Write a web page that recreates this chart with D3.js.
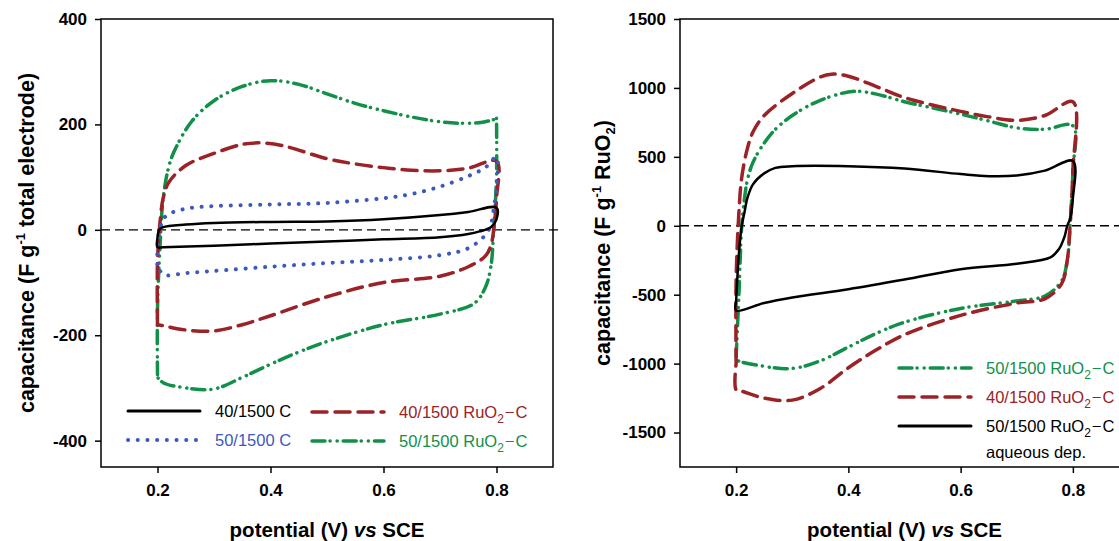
<!DOCTYPE html>
<html>
<head>
<meta charset="utf-8">
<script src="https://cdn.jsdelivr.net/npm/d3@7"></script>
<style>
  body { margin: 0; background: #fff; }
  svg text { font-family: "Liberation Sans", Arial, sans-serif; }
  .tick text { font-weight: bold; font-size: 17px; }
  .axis-title { font-weight: bold; }
  .legend-text { font-size: 16.5px; }
</style>
</head>
<body>
<div id="chart"></div>
<script>
// Colours of the series
var black = "#000000";
var red = "#9b2226";
var blue = "#3d59c1";
var green = "#12904a";

// ---- left panel: F per g of total electrode ----
var leftXTicks = [0.2, 0.4, 0.6, 0.8];
var leftYTicks = [-400, -200, 0, 200, 400];

var c40V = [0.2, 0.203, 0.21, 0.25, 0.3, 0.4, 0.5, 0.6, 0.7, 0.75, 0.8, 0.8, 0.79, 0.77, 0.75, 0.7, 0.6, 0.5, 0.4, 0.3, 0.21, 0.2, 0.2];
var c40C = [-15, 0, 5, 10, 13, 15, 16, 20, 28, 34, 42, 20, 5, -3, -8, -14, -18, -22, -26, -30, -33, -33, -15];

var c50V = [0.2, 0.2, 0.205, 0.21, 0.22, 0.25, 0.3, 0.4, 0.5, 0.6, 0.65, 0.7, 0.75, 0.78, 0.8, 0.8, 0.795, 0.79, 0.78, 0.75, 0.7, 0.6, 0.5, 0.4, 0.3, 0.25, 0.21, 0.2];
var c50C = [-65, -30, 5, 20, 30, 40, 45, 48, 51, 60, 68, 82, 102, 118, 138, 80, 40, 10, -10, -35, -48, -57, -63, -70, -78, -82, -85, -65];

var ru40V = [0.2, 0.2, 0.205, 0.21, 0.22, 0.25, 0.3, 0.35, 0.38, 0.42, 0.5, 0.55, 0.6, 0.65, 0.7, 0.75, 0.8, 0.8, 0.795, 0.79, 0.78, 0.75, 0.7, 0.6, 0.5, 0.4, 0.35, 0.3, 0.25, 0.21, 0.2, 0.2];
var ru40C = [-180, -60, 20, 60, 90, 122, 145, 162, 165, 160, 135, 125, 118, 113, 112, 117, 130, 60, 0, -30, -50, -70, -88, -100, -127, -163, -180, -192, -190, -182, -180, -180];

var ru50V = [0.2, 0.2, 0.205, 0.21, 0.22, 0.23, 0.26, 0.3, 0.35, 0.4, 0.45, 0.5, 0.55, 0.6, 0.65, 0.7, 0.74, 0.78, 0.8, 0.8, 0.8, 0.795, 0.79, 0.78, 0.76, 0.7, 0.6, 0.5, 0.45, 0.4, 0.35, 0.3, 0.25, 0.21, 0.2];
var ru50C = [-275, -150, -20, 60, 120, 150, 205, 245, 272, 283, 276, 258, 240, 226, 214, 205, 202, 205, 212, 215, 100, 0, -70, -110, -140, -160, -180, -212, -232, -255, -280, -302, -300, -290, -280];

// ---- right panel: F per g of RuO2 ----
var rightXTicks = [0.2, 0.4, 0.6, 0.8];
var rightYTicks = [-1500, -1000, -500, 0, 500, 1000, 1500];

var aqV = [0.2, 0.205, 0.21, 0.215, 0.22, 0.23, 0.25, 0.27, 0.3, 0.4, 0.5, 0.6, 0.65, 0.7, 0.75, 0.8, 0.8, 0.795, 0.79, 0.785, 0.775, 0.76, 0.7, 0.6, 0.5, 0.4, 0.3, 0.25, 0.2, 0.2];
var aqC = [-550, -200, 0, 100, 200, 300, 380, 420, 432, 432, 415, 375, 360, 365, 400, 470, 200, 50, 0, -80, -170, -230, -275, -315, -390, -460, -520, -560, -615, -550];

var r40V = [0.2, 0.2, 0.205, 0.21, 0.22, 0.23, 0.25, 0.3, 0.35, 0.37, 0.4, 0.45, 0.5, 0.6, 0.65, 0.7, 0.75, 0.8, 0.8, 0.795, 0.79, 0.78, 0.75, 0.7, 0.6, 0.5, 0.45, 0.4, 0.35, 0.3, 0.25, 0.21, 0.2, 0.2];
var r40C = [-1000, -400, 100, 350, 560, 680, 800, 960, 1080, 1100, 1085, 1010, 930, 830, 790, 765, 800, 900, 400, 0, -250, -420, -530, -560, -650, -790, -900, -1030, -1180, -1265, -1250, -1200, -1190, -1000];

var r50V = [0.2, 0.205, 0.21, 0.215, 0.22, 0.23, 0.25, 0.27, 0.3, 0.35, 0.41, 0.45, 0.5, 0.6, 0.65, 0.7, 0.75, 0.8, 0.8, 0.795, 0.79, 0.78, 0.75, 0.7, 0.6, 0.5, 0.45, 0.4, 0.35, 0.3, 0.25, 0.2, 0.2];
var r50C = [-950, -500, 0, 200, 330, 460, 600, 700, 800, 910, 975, 955, 900, 810, 760, 710, 700, 725, 400, 0, -250, -400, -510, -545, -600, -700, -780, -880, -980, -1035, -1020, -970, -950];

// line styles
var solid = null;
var dotted = "0.1 9.6";
var dashed = "15 8";
var dashDotDot = "13 5 0.1 7 0.1 6";

var svg = d3.select("#chart").append("svg")
  .attr("width", 1119)
  .attr("height", 541);

function zip(vs, cs) {
  return vs.map(function (v, i) { return [v, cs[i]]; });
}

function drawPanel(p) {
  var g = svg.append("g");

  var x = d3.scaleLinear().domain([0.1, 0.9]).range([p.left, p.right]);
  var y = d3.scaleLinear().domain(p.yDomain).range([p.bottom, p.top]);

  // zero line
  g.append("line")
    .attr("x1", p.left).attr("x2", p.zeroEnd)
    .attr("y1", y(0)).attr("y2", y(0))
    .attr("stroke", "#000").attr("stroke-width", 1.3)
    .attr("stroke-dasharray", "9 5");

  var line = d3.line()
    .x(function (d) { return x(d[0]); })
    .y(function (d) { return y(d[1]); })
    .curve(d3.curveCatmullRom.alpha(0.5));

  p.series.forEach(function (s) {
    g.append("path")
      .datum(zip(s.v, s.c))
      .attr("d", line)
      .attr("fill", "none")
      .attr("stroke", s.color)
      .attr("stroke-width", s.width)
      .attr("stroke-linecap", "round")
      .attr("stroke-dasharray", s.dash);
  });

  // frame
  g.append("rect")
    .attr("x", p.left).attr("y", p.top)
    .attr("width", p.right - p.left).attr("height", p.bottom - p.top)
    .attr("fill", "none").attr("stroke", "#000").attr("stroke-width", 1.5);

  var xAxis = g.append("g")
    .attr("transform", "translate(0," + p.bottom + ")")
    .call(d3.axisBottom(x).tickValues(p.xTicks).tickSize(6).tickPadding(11).tickFormat(d3.format(".1f")));
  var yAxis = g.append("g")
    .attr("transform", "translate(" + p.left + ",0)")
    .call(d3.axisLeft(y).tickValues(p.yTicks).tickSize(6).tickPadding(8)
      .tickFormat(function (d) { return String(d); }));
  [xAxis, yAxis].forEach(function (a) {
    a.select(".domain").remove();
    a.selectAll(".tick line").attr("stroke-width", 1.5);
    a.selectAll(".tick text").attr("fill", "#000");
  });

  // axis titles
  var xt = g.append("text")
    .attr("class", "axis-title")
    .attr("font-size", "20.5px")
    .attr("x", (p.left + p.right) / 2).attr("y", 537)
    .attr("text-anchor", "middle");
  xt.append("tspan").text("potential (V) ");
  xt.append("tspan").attr("font-style", "italic").text("vs");
  xt.append("tspan").text(" SCE");

  var yt = g.append("text")
    .attr("class", "axis-title")
    .attr("font-size", "21.5px")
    .attr("transform", "translate(" + p.titleX + "," + ((p.top + p.bottom) / 2) + ") rotate(-90)")
    .attr("text-anchor", "middle");
  yt.append("tspan").text("capacitance (F g");
  yt.append("tspan").attr("font-size", "13px").attr("dy", "-9").text("-1");
  yt.append("tspan").attr("dy", "9").text(p.yUnit[0]);
  if (p.yUnit.length > 1) {
    yt.append("tspan").attr("font-size", "13px").attr("dy", "5").text(p.yUnit[1]);
    yt.append("tspan").attr("dy", "-5").text(p.yUnit[2]);
  }

  // legend
  p.legend.forEach(function (l) {
    g.append("line")
      .attr("x1", l.x).attr("x2", l.x + 72)
      .attr("y1", l.y).attr("y2", l.y)
      .attr("stroke", l.color).attr("stroke-width", l.width)
      .attr("stroke-linecap", "round")
      .attr("stroke-dasharray", l.dash);
    var t = g.append("text")
      .attr("class", "legend-text")
      .attr("x", l.x + 87).attr("y", l.y + 6)
      .attr("fill", l.color);
    if (l.ru) {
      t.append("tspan").text(l.label + " RuO");
      t.append("tspan").attr("font-size", "12px").attr("dy", "5").text("2");
      t.append("tspan").attr("dx", 1).attr("dy", "-5").text("\u2212");
      t.append("tspan").attr("dx", 1).text("C");
    } else {
      t.text(l.label);
    }
    if (l.extra) {
      g.append("text")
        .attr("class", "legend-text")
        .attr("x", l.x + 87).attr("y", l.y + 32)
        .attr("fill", l.color)
        .text(l.extra);
    }
  });
}

drawPanel({
  left: 101, right: 553, top: 19, bottom: 467, zeroEnd: 558,
  yDomain: [-450, 400], xTicks: leftXTicks, yTicks: leftYTicks,
  titleX: 34, yUnit: [" total electrode)"],
  series: [
    { v: ru50V, c: ru50C, color: green, width: 3.5, dash: dashDotDot },
    { v: ru40V, c: ru40C, color: red, width: 3.5, dash: dashed },
    { v: c50V, c: c50C, color: blue, width: 4, dash: dotted },
    { v: c40V, c: c40C, color: black, width: 2.5, dash: solid }
  ],
  legend: [
    { x: 128, y: 411, color: black, width: 3, dash: solid, label: "40/1500 C" },
    { x: 128, y: 440, color: blue, width: 4, dash: dotted, label: "50/1500 C" },
    { x: 312, y: 412, color: red, width: 3.5, dash: dashed, label: "40/1500", ru: true },
    { x: 312, y: 441, color: green, width: 3.5, dash: dashDotDot, label: "50/1500", ru: true }
  ]
});

drawPanel({
  left: 680, right: 1129, top: 19, bottom: 467, zeroEnd: 1119,
  yDomain: [-1750, 1500], xTicks: rightXTicks, yTicks: rightYTicks,
  titleX: 610, yUnit: [" RuO", "2", ")"],
  series: [
    { v: r50V, c: r50C, color: green, width: 3.5, dash: dashDotDot },
    { v: r40V, c: r40C, color: red, width: 3.5, dash: dashed },
    { v: aqV, c: aqC, color: black, width: 2.5, dash: solid }
  ],
  legend: [
    { x: 899, y: 368, color: green, width: 3.5, dash: dashDotDot, label: "50/1500", ru: true },
    { x: 899, y: 397, color: red, width: 3.5, dash: dashed, label: "40/1500", ru: true },
    { x: 899, y: 426, color: black, width: 3, dash: solid, label: "50/1500", ru: true, extra: "aqueous dep." }
  ]
});
</script>
</body>
</html>
